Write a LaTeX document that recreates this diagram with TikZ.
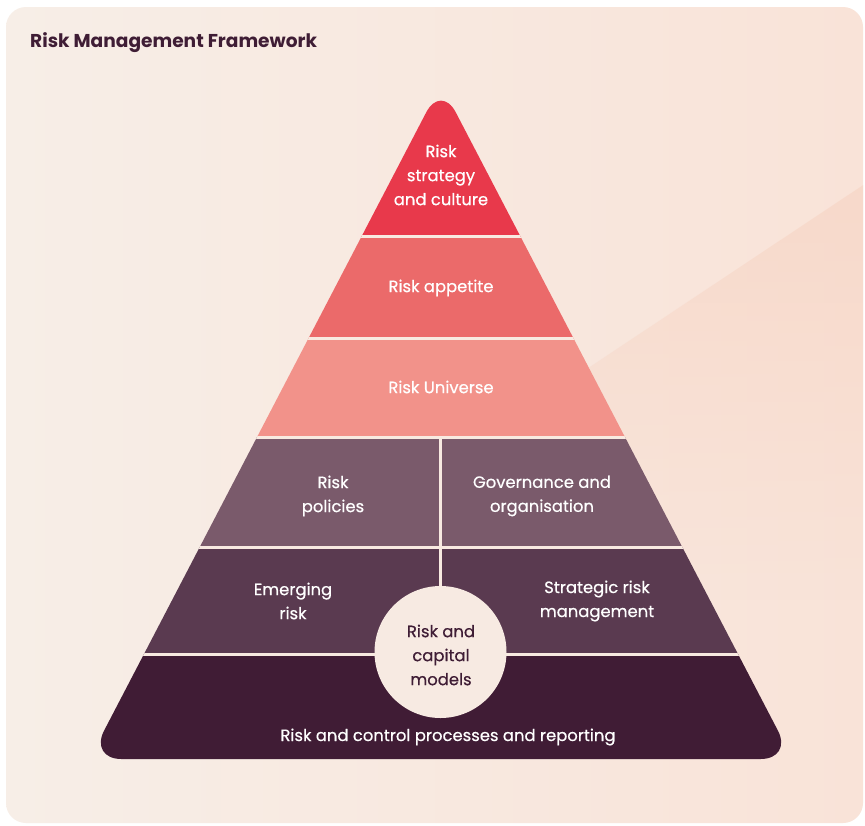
\documentclass[tikz,border=0pt]{standalone}
\usepackage{fontspec}
\setmainfont{Poppins}
\newfontfamily\lblfont{Poppins}[FakeBold=0.5]
\usetikzlibrary{fadings}
\definecolor{bgL}{HTML}{F7EEE7}
\definecolor{bgR}{HTML}{F9E3D8}
\definecolor{peach}{HTML}{F7D5C5}
\definecolor{cA}{HTML}{E8394B}
\definecolor{cB}{HTML}{EB6A6A}
\definecolor{cC}{HTML}{F2928A}
\definecolor{cD}{HTML}{7A5A6B}
\definecolor{cE}{HTML}{5A3A50}
\definecolor{cF}{HTML}{401C35}
\definecolor{sepc}{HTML}{F8EAE1}
\definecolor{circc}{HTML}{F7EAE2}
\definecolor{dark}{HTML}{3F1D35}
\begin{document}
\begin{tikzpicture}[x=1pt,y=-1pt,
  lbl/.style={text=white, font=\lblfont\fontsize{16.4}{24}\selectfont, align=center, inner sep=0pt},
  sepline/.style={draw=sepc, line width=3pt},
  ttl/.style={text=dark, font=\fontsize{18.6}{20}\selectfont\bfseries, inner sep=0pt, anchor=west}]
\useasboundingbox (0,0) rectangle (865,825);
\fill[white] (0,0) rectangle (865,825);
\shade[rounded corners=20pt, left color=bgL, right color=bgR] (6,7) rectangle (863,823);
\begin{scope}
  \clip[rounded corners=20pt] (6,7) rectangle (863,823);
  \fill[peach, path fading=south, fill opacity=0.7] (585,370) -- (866,183) -- (866,600) -- (585,600) -- cycle;
\end{scope}
% pyramid
\begin{scope}
  \clip[rounded corners=32pt] (441,759) -- (89.3,759) -- (441,84) -- (792.7,759) -- cycle;
  \fill[cA] (0,0) rectangle (865,236.5);
  \fill[cB] (0,236.5) rectangle (865,338.5);
  \fill[cC] (0,338.5) rectangle (865,437);
  \fill[cD] (0,437) rectangle (865,547);
  \fill[cE] (0,547) rectangle (865,654);
  \fill[cF] (0,654) rectangle (865,800);
  \draw[sepline] (0,236.5) -- (865,236.5);
  \draw[sepline] (0,338.5) -- (865,338.5);
  \draw[sepline] (0,437) -- (865,437);
  \draw[sepline] (0,547) -- (865,547);
  \draw[sepline] (0,654) -- (865,654);
  \draw[sepline] (440.5,437) -- (440.5,654);
\end{scope}
\node[circle, fill=circc, minimum size=132pt, inner sep=0pt] (cap) at (440.5,652) {};
\node[ttl] (title) at (30,43) {Risk Management Framework};
\node[lbl] (strat) at (441,175) {Risk\\strategy\\and culture};
\node[lbl] (app) at (441,288) {Risk appetite};
\node[lbl] (univ) at (441,387) {Risk Universe};
\node[lbl] (pol) at (333,496) {Risk\\policies};
\node[lbl] (gov) at (542,496) {Governance and\\organisation};
\node[lbl] (emer) at (293,601) {Emerging\\risk};
\node[lbl] (strm) at (597,601) {Strategic risk\\management};
\node[lbl, text=dark] (captxt) at (441,655) {Risk and\\capital\\models};
\node[lbl] (proc) at (448,737) {Risk and control processes and reporting};
\end{tikzpicture}
\end{document}
